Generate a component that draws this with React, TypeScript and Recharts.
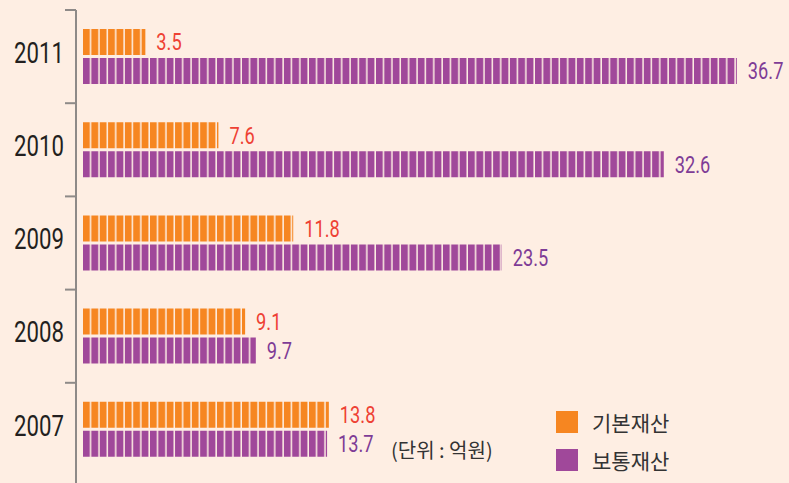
import React from 'react';
import { BarChart, Bar, XAxis, YAxis, LabelList } from 'recharts';

const years = ['2011', '2010', '2009', '2008', '2007'];
const basicAssets = [3.5, 7.6, 11.8, 9.1, 13.8];
const generalAssets = [36.7, 32.6, 23.5, 9.7, 13.7];
const seriesNames = ['기본재산', '보통재산'];
const unitText = '(단위 : 억원)';

const data = years.map((y, i) => ({ year: y, basic: basicAssets[i], general: generalAssets[i] }));

const W = 789;
const H = 483;
const M = { top: 10, right: 29, bottom: 7, left: 0 };
const BAND = (H - M.top - M.bottom) / years.length;

const ORANGE = '#F68621';
const PURPLE = '#A0489A';
const BG = '#FEEEE3';
const FONT = "Roboto, 'Noto Sans', sans-serif";
const KR = "'Noto Sans CJK KR', 'Noto Sans', sans-serif";

const CatTick = (props: any) => {
  const { x, y, payload, index } = props;
  const axisX = x + 8;
  const top = y - BAND / 2;
  return (
    <g>
      {index === 0 && (
        <line x1={axisX} x2={axisX} y1={top} y2={H} stroke="#8E8A88" strokeWidth={2} />
      )}
      <line x1={axisX - 11} x2={axisX} y1={top} y2={top} stroke="#8E8A88" strokeWidth={2} />
      <text
        transform={`translate(${axisX - 12}, ${y - 4}) scale(0.74, 1)`}
        textAnchor="end"
        dominantBaseline="central"
        fontFamily={FONT}
        fontSize={30}
        fill="#231F20"
      >
        {payload.value}
      </text>
    </g>
  );
};

const makeLabel = (color: string) => (props: any) => {
  const { x, y, width, height, value } = props;
  const lx = x + width + 11;
  const ly = y + height / 2;
  return (
    <text
      transform={`translate(${lx}, ${ly}) scale(0.76, 1)`}
      dominantBaseline="central"
      fontFamily={FONT}
      fontSize={24}
      fill={color}
    >
      {value}
    </text>
  );
};

const OrangeLabel = makeLabel('#EE4134');
const PurpleLabel = makeLabel('#7E3C96');

export default function App() {
  return (
    <div style={{ position: 'absolute', left: 0, top: 0, width: W, height: H, background: BG, overflow: 'hidden' }}>
      <BarChart width={W} height={H} data={data} layout="vertical" margin={M} barSize={26} barGap={3}>
        <defs>
          <pattern id="stripeO" patternUnits="userSpaceOnUse" x={83} y={0} width={8.37} height={20}>
            <rect x={0} y={0} width={8.37} height={20} fill={ORANGE} />
            <rect x={6.87} y={0} width={1.5} height={20} fill={BG} />
          </pattern>
          <pattern id="stripeP" patternUnits="userSpaceOnUse" x={83} y={0} width={8.37} height={20}>
            <rect x={0} y={0} width={8.37} height={20} fill={PURPLE} />
            <rect x={6.87} y={0} width={1.5} height={20} fill={BG} />
          </pattern>
        </defs>
        <XAxis type="number" domain={[0, 38]} hide padding={{ left: 7, right: 0 }} />
        <YAxis type="category" dataKey="year" width={76} axisLine={false} tickLine={false} tick={<CatTick />} interval={0} />
        <Bar dataKey="basic" name={seriesNames[0]} fill="url(#stripeO)" isAnimationActive={false}>
          <LabelList dataKey="basic" content={<OrangeLabel />} />
        </Bar>
        <Bar dataKey="general" name={seriesNames[1]} fill="url(#stripeP)" isAnimationActive={false}>
          <LabelList dataKey="general" content={<PurpleLabel />} />
        </Bar>
      </BarChart>
      <div style={{ position: 'absolute', left: 556, top: 403, fontFamily: KR }}>
        {[ORANGE, PURPLE].map((c, i) => (
          <div key={i} style={{ display: 'flex', alignItems: 'center', height: 38 }}>
            <div style={{ width: 22, height: 22, background: c }} />
            <span style={{ marginLeft: 14, fontSize: 21, color: '#333' }}>{seriesNames[i]}</span>
          </div>
        ))}
      </div>
      <div style={{ position: 'absolute', left: 391, top: 435, fontFamily: KR, fontSize: 20, color: '#333', whiteSpace: 'pre' }}>
        {unitText}
      </div>
    </div>
  );
}
